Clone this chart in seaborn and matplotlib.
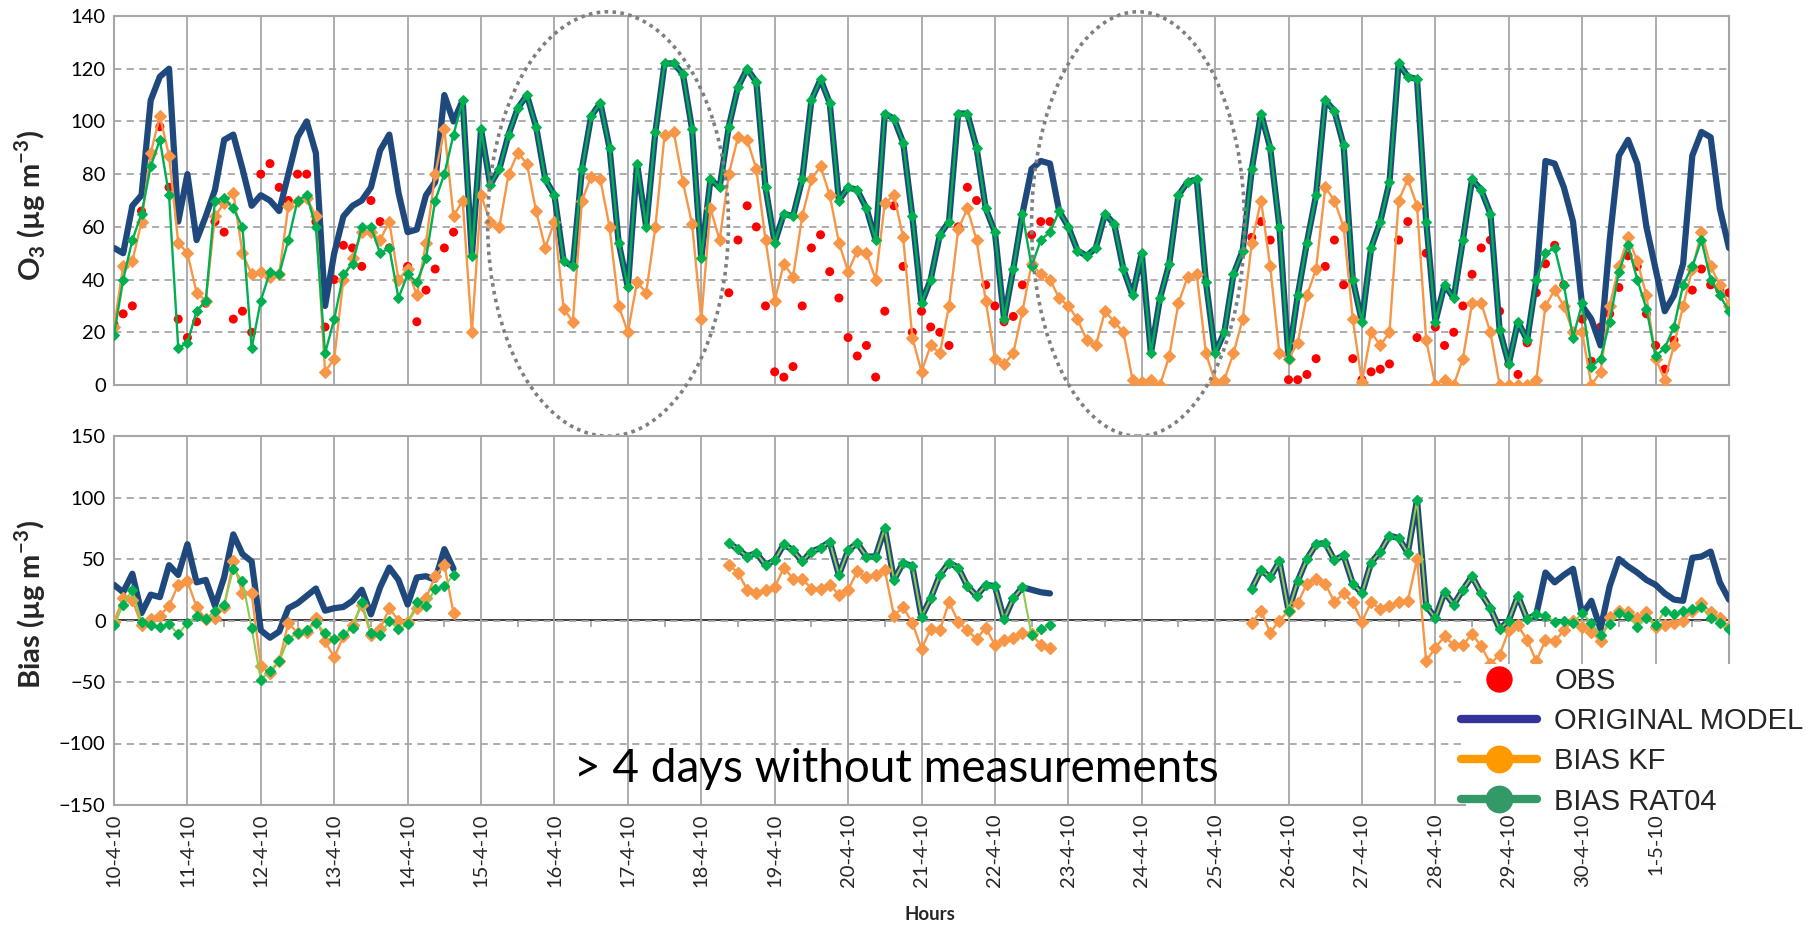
import numpy as np
import matplotlib
matplotlib.use("Agg")
import matplotlib.pyplot as plt
import seaborn as sns
from matplotlib.patches import Ellipse, Rectangle
from matplotlib.lines import Line2D

nan = np.nan

# ---------------- data (3-hourly values, 10-4-10 00h .. 2-5-10 00h) ----------------
day_labels = ["10-4-10", "11-4-10", "12-4-10", "13-4-10", "14-4-10", "15-4-10", "16-4-10",
              "17-4-10", "18-4-10", "19-4-10", "20-4-10", "21-4-10", "22-4-10", "23-4-10",
              "24-4-10", "25-4-10", "26-4-10", "27-4-10", "28-4-10", "29-4-10", "30-4-10",
              "1-5-10"]

obs_o3 = [23, 27, 30, 66, 87, 98, 75, 25,
          18, 24, 31, 62, 58, 25, 28, 20,
          80, 84, 75, 70, 80, 80, 62, 22,
          40, 53, 52, 45, 70, 62, 52, 40,
          45, 24, 36, 44, 52, 58, nan, nan,
          nan, nan, nan, nan, nan, nan, nan, nan,
          nan, nan, nan, nan, nan, nan, nan, nan,
          nan, nan, nan, nan, nan, nan, nan, nan,
          nan, nan, nan, 35, 55, 68, 60, 30,
          5, 3, 7, 30, 52, 57, 43, 33,
          18, 11, 15, 3, 28, 68, 45, 20,
          28, 22, 20, 15, 60, 75, 70, 38,
          30, 24, 26, 38, 57, 62, 62, nan,
          nan, nan, nan, nan, nan, nan, nan, nan,
          nan, nan, nan, nan, nan, nan, nan, nan,
          nan, nan, nan, nan, 56, 62, 55, 12,
          2, 2, 4, 10, 45, 55, 38, 10,
          2, 5, 6, 8, 55, 62, 18, 50,
          22, 15, 20, 30, 42, 52, 55, 28,
          8, 4, 16, 35, 46, 53, 38, 20,
          25, 9, 22, 27, 37, 49, 45, 27,
          15, 6, 17, 30, 36, 44, 38, 36,
          35]

model_o3 = [52, 50, 68, 72, 108, 117, 120, 62,
            80, 55, 64, 74, 93, 95, 82, 68,
            72, 70, 66, 80, 94, 100, 88, 30,
            50, 64, 68, 70, 75, 89, 95, 73,
            58, 59, 72, 77, 110, 100, 108, 49,
            97, 76, 82, 95, 105, 110, 98, 78,
            72, 47, 45, 82, 102, 107, 90, 54,
            37, 84, 60, 96, 122, 122, 118, 97,
            48, 78, 75, 98, 113, 120, 115, 75,
            54, 65, 64, 78, 108, 116, 107, 70,
            75, 74, 67, 55, 103, 101, 92, 64,
            31, 40, 57, 62, 103, 103, 90, 67,
            58, 25, 44, 65, 82, 85, 84, 66,
            60, 51, 49, 52, 65, 61, 44, 34,
            50, 12, 33, 46, 72, 77, 78, 39,
            12, 20, 42, 51, 82, 103, 90, 60,
            10, 34, 54, 72, 108, 104, 91, 40,
            24, 52, 62, 77, 122, 117, 116, 62,
            24, 38, 33, 55, 78, 74, 65, 21,
            8, 24, 17, 40, 85, 84, 75, 62,
            30, 25, 15, 55, 87, 93, 84, 60,
            44, 28, 34, 46, 87, 96, 94, 67,
            52]

kf_o3 = [22, 45, 47, 62, 88, 102, 87, 54,
         50, 35, 32, 64, 69, 73, 50, 42,
         43, 41, 42, 68, 70, 71, 64, 5,
         10, 40, 48, 58, 58, 55, 62, 40,
         44, 34, 54, 80, 97, 64, 70, 20,
         72, 62, 60, 80, 88, 84, 66, 52,
         62, 29, 24, 70, 79, 78, 60, 30,
         20, 39, 35, 60, 95, 96, 77, 61,
         25, 67, 55, 80, 94, 93, 82, 55,
         32, 46, 41, 64, 78, 83, 72, 54,
         43, 51, 50, 40, 69, 72, 56, 18,
         5, 15, 12, 30, 59, 67, 55, 32,
         10, 8, 12, 28, 46, 42, 40, 33,
         30, 25, 17, 15, 28, 24, 20, 2,
         1, 2, 0, 11, 31, 41, 42, 12,
         1, 2, 12, 25, 54, 70, 45, 12,
         10, 16, 34, 44, 75, 70, 60, 25,
         1, 20, 15, 20, 70, 78, 68, 17,
         0, 2, 0, 10, 31, 31, 20, 0,
         0, 0, 0, 2, 30, 36, 30, 20,
         20, 0, 5, 30, 45, 56, 47, 34,
         10, 2, 15, 30, 44, 58, 45, 38,
         30]

rat04_o3 = [19, 40, 55, 65, 83, 93, 72, 14,
            16, 28, 32, 70, 71, 67, 60, 14,
            32, 43, 42, 55, 70, 72, 60, 12,
            25, 42, 46, 60, 60, 50, 52, 33,
            42, 39, 48, 70, 80, 95, 108, 49,
            97, 76, 82, 95, 105, 110, 98, 78,
            72, 47, 45, 82, 102, 107, 90, 54,
            37, 84, 60, 96, 122, 122, 118, 97,
            48, 78, 75, 98, 113, 120, 115, 75,
            54, 65, 64, 78, 108, 116, 107, 70,
            75, 74, 67, 55, 103, 101, 92, 64,
            31, 40, 57, 62, 103, 103, 90, 67,
            58, 25, 44, 65, 45, 55, 58, 66,
            60, 51, 49, 52, 65, 61, 44, 34,
            50, 12, 33, 46, 72, 77, 78, 39,
            12, 20, 42, 51, 82, 103, 90, 60,
            10, 34, 54, 72, 108, 104, 91, 40,
            24, 52, 62, 77, 122, 117, 116, 62,
            24, 38, 33, 55, 78, 74, 65, 21,
            8, 24, 17, 40, 50, 52, 38, 18,
            31, 7, 10, 24, 43, 53, 40, 29,
            11, 14, 22, 38, 45, 55, 40, 34,
            28]

step_hours = 3

# ---------------- derived ----------------
obs = np.array(obs_o3, float)
model = np.array(model_o3, float)
kf = np.array(kf_o3, float)
rat = np.array(rat04_o3, float)
t_days = np.arange(len(obs)) * step_hours / 24.0
bias_model = model - obs
bias_kf = kf - obs
bias_rat = rat - obs

# ---------------- style ----------------
sns.set_theme(style="white")
plt.rcParams["font.family"] = ["Lato", "DejaVu Sans"]
plt.rcParams["mathtext.fontset"] = "custom"
plt.rcParams["mathtext.bf"] = "Lato:bold"
plt.rcParams["mathtext.rm"] = "Lato"

C_OBS = "#FF0000"
C_MOD = "#1F497D"
C_KF = "#F79646"
C_RAT = "#00B050"
C_GRID = "#A6A6A6"

W, H = 1817, 927
fig = plt.figure(figsize=(W / 100, H / 100), dpi=100)
L, R = 114 / W, 1729 / W
ax1 = fig.add_axes([L, 1 - 385 / H, R - L, 369 / H])
ax2 = fig.add_axes([L, 1 - 805 / H, R - L, 369 / H])

days = np.arange(0, 22)
halfdays = np.arange(0.5, 22, 1.0)

for ax in (ax1, ax2):
    ax.set_xlim(0, 22)
    ax.set_xticks(days)
    ax.grid(False)
    ax.xaxis.grid(True, color=C_GRID, lw=1.3, ls="-")
    ax.yaxis.grid(True, color=C_GRID, lw=1.3, ls=(0, (4, 3)))
    ax.set_axisbelow(True)
    for s in ax.spines.values():
        s.set_color(C_GRID)
        s.set_linewidth(1.5)
    ax.tick_params(axis="y", length=0, labelsize=14.5, pad=6, colors="black")
    ax.set_xlabel("")
    ax.set_ylabel("")

# ---- top panel ----
ax1.set_ylim(0, 140)
ax1.set_yticks(np.arange(0, 141, 20))
ax1.set_xticklabels([])
ax1.tick_params(axis="x", length=0)
ax1.set_xticks(halfdays, minor=True)
ax1.tick_params(axis="x", which="minor", direction="in", length=5, color=C_GRID, width=1.3)

sns.scatterplot(x=t_days, y=obs, ax=ax1, color=C_OBS, s=42, edgecolor="none",
                zorder=3, legend=False)
sns.lineplot(x=t_days, y=model, ax=ax1, color=C_MOD, lw=4.5, zorder=4,
             estimator=None, legend=False)
sns.lineplot(x=t_days, y=kf, ax=ax1, color=C_KF, lw=1.7, marker="D", ms=6.5,
             mec=C_KF, mfc=C_KF, zorder=5, estimator=None, legend=False)
sns.lineplot(x=t_days, y=rat, ax=ax1, color=C_RAT, lw=1.7, marker="D", ms=4.8,
             mec=C_RAT, mfc=C_RAT, zorder=6, estimator=None, legend=False)

for cx, w in ((6.73, 3.28), (13.95, 2.9)):
    e = Ellipse((cx, 61.1), width=w, height=161, transform=ax1.transData, fill=False,
                ec="#7F7F7F", lw=2.6, ls=(0, (1, 1.2)), clip_on=False, zorder=10)
    ax1.add_patch(e)

# ---- bias panel ----
ax2.set_ylim(-150, 150)
ax2.set_yticks(np.arange(-150, 151, 50))
ax2.set_xticklabels(day_labels, rotation=90, fontsize=14.5)
ax2.tick_params(axis="x", length=0, pad=6)

zero_ax = ax2.secondary_xaxis(0.5)
zero_ax.spines["bottom"].set_color(C_GRID)
zero_ax.spines["bottom"].set_linewidth(1.5)
zero_ax.set_xticks(halfdays)
zero_ax.set_xticklabels([])
zero_ax.tick_params(axis="x", direction="in", length=5, color=C_GRID, width=1.3)

ax2.plot(t_days, bias_model, color=C_MOD, lw=4.5, zorder=4)
ax2.plot(t_days, bias_kf, color=C_KF, lw=1.7, marker="D", ms=6.5, mec=C_KF, zorder=5)
ax2.plot(t_days, bias_rat, color="#8CCB4E", lw=1.5, marker="D", ms=4.8,
         mec=C_RAT, mfc=C_RAT, zorder=6)

ax2.text(10.66, -121, "> 4 days without measurements", ha="center", va="center",
         fontsize=33, color="black", zorder=7)

# ---- labels ----
fig.text(30 / W, 1 - 205 / H, r"O$_{\mathbf{3}}$ (µg m$^{\mathbf{-3}}$)", rotation=90,
         ha="center", va="center", fontsize=21, fontweight="bold")
fig.text(30 / W, 1 - 605 / H, r"Bias (µg m$^{\mathbf{-3}}$)", rotation=90,
         ha="center", va="center", fontsize=21, fontweight="bold")
fig.text(930 / W, 1 - 915 / H, "Hours", ha="center", va="center", fontsize=13.5,
         fontweight="bold")

# ---- legend (white box stops at the axes bottom, like the original) ----
fig.add_artist(Rectangle((1466 / W, 1 - 806 / H), (W - 1466) / W, 142 / H,
                         transform=fig.transFigure, facecolor="white",
                         edgecolor="none", zorder=4))
handles = [
    Line2D([], [], ls="none", marker="o", ms=18, color="#FF0000"),
    Line2D([], [], color="#333399", lw=6),
    Line2D([], [], color="#FF9900", lw=6, marker="o", ms=19),
    Line2D([], [], color="#339966", lw=6, marker="o", ms=19),
]
labels = ["OBS", "ORIGINAL MODEL", "BIAS KF", "BIAS RAT04"]
leg = fig.legend(handles, labels, loc="upper left", bbox_to_anchor=(1458 / W, 1 - 664 / H),
                 frameon=False, prop={"family": "Liberation Sans", "size": 21},
                 handlelength=2.6, handletextpad=0.6, labelspacing=0.42,
                 borderpad=0.1, borderaxespad=0)
leg.set_zorder(6)

fig.savefig("out.png", dpi=100)
